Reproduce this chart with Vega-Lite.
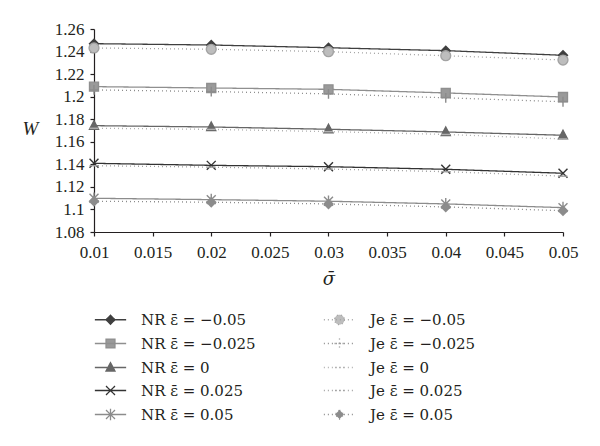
{
  "$schema": "https://vega.github.io/schema/vega-lite/v6.json",
  "width": 469,
  "height": 203,
  "autosize": {"type": "none"},
  "padding": {"left": 94, "top": 29, "right": 37, "bottom": 214},
  "background": "white",
  "config": {
    "font": "Liberation Serif",
    "view": {"stroke": null},
    "axis": {
      "grid": false,
      "labelFont": "Liberation Serif",
      "labelFontSize": 17,
      "labelColor": "#231f20",
      "domainColor": "#231f20",
      "domainWidth": 1.2,
      "tickColor": "#231f20",
      "tickWidth": 1.2,
      "tickSize": 4,
      "titleFont": "Liberation Serif",
      "titleFontSize": 19,
      "titleFontWeight": "normal",
      "titleFontStyle": "italic",
      "titleColor": "#231f20"
    },
    "legend": {
      "labelFont": "DejaVu Serif",
      "labelFontSize": 15,
      "labelColor": "#231f20"
    }
  },
  "datasets": {
    "w": [
      {"s": "NR ε̄ = −0.05", "x": 0.01, "W": 1.247},
      {"s": "NR ε̄ = −0.05", "x": 0.02, "W": 1.2458},
      {"s": "NR ε̄ = −0.05", "x": 0.03, "W": 1.2434},
      {"s": "NR ε̄ = −0.05", "x": 0.04, "W": 1.2408},
      {"s": "NR ε̄ = −0.05", "x": 0.05, "W": 1.2367},
      {"s": "Je ε̄ = −0.05", "x": 0.01, "W": 1.2432},
      {"s": "Je ε̄ = −0.05", "x": 0.02, "W": 1.242},
      {"s": "Je ε̄ = −0.05", "x": 0.03, "W": 1.2399},
      {"s": "Je ε̄ = −0.05", "x": 0.04, "W": 1.2363},
      {"s": "Je ε̄ = −0.05", "x": 0.05, "W": 1.2325},
      {"s": "NR ε̄ = −0.025", "x": 0.01, "W": 1.2089},
      {"s": "NR ε̄ = −0.025", "x": 0.02, "W": 1.2077},
      {"s": "NR ε̄ = −0.025", "x": 0.03, "W": 1.2065},
      {"s": "NR ε̄ = −0.025", "x": 0.04, "W": 1.2033},
      {"s": "NR ε̄ = −0.025", "x": 0.05, "W": 1.1997},
      {"s": "Je ε̄ = −0.025", "x": 0.01, "W": 1.206},
      {"s": "Je ε̄ = −0.025", "x": 0.02, "W": 1.2045},
      {"s": "Je ε̄ = −0.025", "x": 0.03, "W": 1.2025},
      {"s": "Je ε̄ = −0.025", "x": 0.04, "W": 1.199},
      {"s": "Je ε̄ = −0.025", "x": 0.05, "W": 1.1955},
      {"s": "NR ε̄ = 0", "x": 0.01, "W": 1.1743},
      {"s": "NR ε̄ = 0", "x": 0.02, "W": 1.1731},
      {"s": "NR ε̄ = 0", "x": 0.03, "W": 1.1711},
      {"s": "NR ε̄ = 0", "x": 0.04, "W": 1.1687},
      {"s": "NR ε̄ = 0", "x": 0.05, "W": 1.1658},
      {"s": "Je ε̄ = 0", "x": 0.01, "W": 1.172},
      {"s": "Je ε̄ = 0", "x": 0.02, "W": 1.171},
      {"s": "Je ε̄ = 0", "x": 0.03, "W": 1.169},
      {"s": "Je ε̄ = 0", "x": 0.04, "W": 1.1665},
      {"s": "Je ε̄ = 0", "x": 0.05, "W": 1.1625},
      {"s": "NR ε̄ = 0.025", "x": 0.01, "W": 1.1409},
      {"s": "NR ε̄ = 0.025", "x": 0.02, "W": 1.1391},
      {"s": "NR ε̄ = 0.025", "x": 0.03, "W": 1.1379},
      {"s": "NR ε̄ = 0.025", "x": 0.04, "W": 1.1356},
      {"s": "NR ε̄ = 0.025", "x": 0.05, "W": 1.1321},
      {"s": "Je ε̄ = 0.025", "x": 0.01, "W": 1.1388},
      {"s": "Je ε̄ = 0.025", "x": 0.02, "W": 1.1375},
      {"s": "Je ε̄ = 0.025", "x": 0.03, "W": 1.1358},
      {"s": "Je ε̄ = 0.025", "x": 0.04, "W": 1.1335},
      {"s": "Je ε̄ = 0.025", "x": 0.05, "W": 1.1295},
      {"s": "NR ε̄ = 0.05", "x": 0.01, "W": 1.1099},
      {"s": "NR ε̄ = 0.05", "x": 0.02, "W": 1.1087},
      {"s": "NR ε̄ = 0.05", "x": 0.03, "W": 1.1073},
      {"s": "NR ε̄ = 0.05", "x": 0.04, "W": 1.1049},
      {"s": "NR ε̄ = 0.05", "x": 0.05, "W": 1.1016},
      {"s": "Je ε̄ = 0.05", "x": 0.01, "W": 1.1073},
      {"s": "Je ε̄ = 0.05", "x": 0.02, "W": 1.1064},
      {"s": "Je ε̄ = 0.05", "x": 0.03, "W": 1.1049},
      {"s": "Je ε̄ = 0.05", "x": 0.04, "W": 1.1022},
      {"s": "Je ε̄ = 0.05", "x": 0.05, "W": 1.0989}
    ]
  },
  "data": {"name": "w"},
  "encoding": {
    "x": {
      "field": "x",
      "type": "quantitative",
      "scale": {"domain": [0.01, 0.05], "nice": false, "zero": false},
      "axis": {
        "title": "σ̄",
        "titleFont": "DejaVu Serif",
        "titleFontSize": 18,
        "values": [0.01, 0.015, 0.02, 0.025, 0.03, 0.035, 0.04, 0.045, 0.05],
        "format": ".3~f",
        "labelPadding": 8,
        "titlePadding": 10,
        "labelFlush": false
      }
    },
    "y": {
      "field": "W",
      "type": "quantitative",
      "scale": {"domain": [1.08, 1.26], "nice": false, "zero": false},
      "axis": {
        "title": "W",
        "values": [1.08, 1.1, 1.12, 1.14, 1.16, 1.18, 1.2, 1.22, 1.24, 1.26],
        "format": ".3~f",
        "labelPadding": 6,
        "titleAngle": 0,
        "titleX": -64,
        "titleY": 99,
        "titleAlign": "center",
        "titleBaseline": "middle"
      }
    }
  },
  "layer": [
    {
      "mark": {"type": "line", "strokeWidth": 1.3},
      "encoding": {
        "stroke": {
          "field": "s",
          "type": "nominal",
          "scale": {
            "domain": ["Je ε̄ = −0.05", "Je ε̄ = −0.025", "Je ε̄ = 0", "Je ε̄ = 0.025", "Je ε̄ = 0.05", "NR ε̄ = −0.05", "NR ε̄ = −0.025", "NR ε̄ = 0", "NR ε̄ = 0.025", "NR ε̄ = 0.05"],
            "range": ["#a3a3a3", "#8c8c8c", "#b0b0b0", "#a0a0a0", "#8c8c8c", "#3f3f3f", "#8f8f8f", "#666666", "#333333", "#8c8c8c"]
          },
          "legend": null
        },
        "strokeDash": {
          "field": "s",
          "type": "nominal",
          "scale": {
            "domain": ["NR ε̄ = 0.05", "NR ε̄ = 0.025", "NR ε̄ = 0", "NR ε̄ = −0.025", "NR ε̄ = −0.05", "Je ε̄ = 0.05", "Je ε̄ = 0.025", "Je ε̄ = 0", "Je ε̄ = −0.025", "Je ε̄ = −0.05"],
            "range": [[1, 0], [1, 0], [1, 0], [1, 0], [1, 0], [1, 3], [1, 3], [1, 3], [1, 3], [1, 3]]
          },
          "legend": null
        }
      }
    },
    {
      "mark": {"type": "point", "filled": false, "opacity": 1, "size": 80, "strokeWidth": 1.4},
      "encoding": {
        "fill": {
          "field": "s",
          "type": "nominal",
          "scale": {
            "domain": ["NR ε̄ = −0.05", "NR ε̄ = −0.025", "NR ε̄ = 0", "NR ε̄ = 0.025", "NR ε̄ = 0.05", "Je ε̄ = −0.05", "Je ε̄ = −0.025", "Je ε̄ = 0", "Je ε̄ = 0.025", "Je ε̄ = 0.05"],
            "range": ["#3f3f3f", "#9a9a9a", "#666666", "#333333", "#8c8c8c", "#bdbdbd", "#8c8c8c", "#c4c4c4", "#a8a8a8", "#8c8c8c"]
          },
          "legend": {
            "title": null,
            "orient": "none",
            "legendX": 9,
            "legendY": 283,
            "columns": 2,
            "columnPadding": 65,
            "rowPadding": 7,
            "symbolSize": 80,
            "symbolStrokeWidth": 1.3,
            "labelOffset": 23,
            "encoding": {
              "symbols": {
                "shape": {"value": {"expr": "'M-3.5,0H3.5' + scale('shape', datum.value)"}},
                "stroke": {"value": {"expr": "scale('stroke', datum.value)"}},
                "strokeDash": {"value": {"expr": "scale('strokeDash', datum.value)"}},
                "opacity": {"value": 1}
              }
            }
          }
        },
        "shape": {
          "field": "s",
          "type": "nominal",
          "scale": {
            "domain": ["Je ε̄ = 0.05", "Je ε̄ = 0.025", "Je ε̄ = 0", "Je ε̄ = −0.025", "Je ε̄ = −0.05", "NR ε̄ = 0.05", "NR ε̄ = 0.025", "NR ε̄ = 0", "NR ε̄ = −0.025", "NR ε̄ = −0.05"],
            "range": [
              "M0,-1L1,0L0,1L-1,0Z",
              "M-1,0H1",
              "M-1,0H1",
              "M0,-1.1V1.1M-1.1,0H1.1",
              "M1.1,0A1.1,1.1 0 1,1 -1.1,0A1.1,1.1 0 1,1 1.1,0Z",
              "M-1,-1L1,1M-1,1L1,-1M0,-1.3V1.3",
              "M-1,-1L1,1M-1,1L1,-1",
              "M0,-1.1L1,0.8H-1Z",
              "M-1,-1H1V1H-1Z",
              "M0,-1L1,0L0,1L-1,0Z"
            ]
          },
          "legend": null
        },
        "stroke": {
          "field": "s",
          "type": "nominal",
          "legend": null
        }
      }
    }
  ]
}
